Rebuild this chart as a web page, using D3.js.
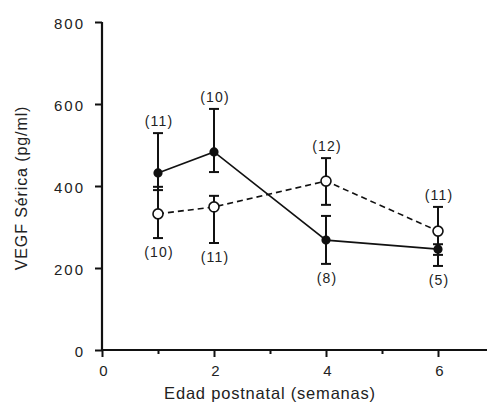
<!DOCTYPE html>
<html><head><meta charset="utf-8">
<script src="https://cdn.jsdelivr.net/npm/d3@7"></script>
<style>body{margin:0;background:#fff}svg{display:block}text{font-family:"Liberation Sans",Arial,sans-serif;fill:#222}</style>
</head><body><svg id="c" width="487" height="409"></svg>
<script>
const weeks = [1, 2, 4, 6];
const filledMean = [432, 483, 268, 246];
const filledUpper = [529, 588, 327, 258];
const filledLower = [390, 434, 210, 205];
const filledN = ["(11)", "(10)", "(8)", "(5)"];
const openMean = [332, 349, 412, 290];
const openUpper = [398, 376, 468, 349];
const openLower = [273, 261, 354, 232];
const openN = ["(10)", "(11)", "(12)", "(11)"];
const yTicks = [0, 200, 400, 600, 800];
const xTicks = [0, 2, 4, 6];
const xMinor = [1, 3, 5];

const svg = d3.select("#c");
const x = d3.scaleLinear().domain([0, 7]).range([102, 494]);
const y = d3.scaleLinear().domain([0, 800]).range([350, 22]);

// axes
const gy = svg.append("g").attr("transform", "translate(102,0)")
  .call(d3.axisLeft(y).tickValues(yTicks).tickSize(7).tickPadding(10).tickFormat(d3.format("d")));
gy.selectAll("text").style("font-size", "15px").style("letter-spacing", "2px").attr("dy", "0.4em");
const gx = svg.append("g").attr("transform", "translate(0,350)")
  .call(d3.axisBottom(x).tickValues(xTicks).tickSize(7).tickPadding(8).tickFormat(d3.format("d")));
gx.selectAll("text").style("font-size", "15px").attr("dx", "1px");
svg.append("g").attr("transform", "translate(0,350)")
  .call(d3.axisBottom(x).tickValues(xMinor).tickSize(4).tickFormat(""))
  .select(".domain").remove();
svg.selectAll(".domain").attr("stroke", "#111").attr("stroke-width", 2.2);
svg.selectAll(".tick line").attr("stroke", "#111").attr("stroke-width", 2);
gy.select(".domain").attr("d", `M0,${y(800)}V${y(0)}`);
gx.select(".domain").attr("d", `M102,0H487`);

function series(mean, up, lo, ns, filled) {
  const g = svg.append("g");
  const pts = weeks.map((w, i) => ({w, m: mean[i], u: up[i], l: lo[i], n: ns[i]}));
  pts.forEach(p => {
    g.append("line").attr("x1", x(p.w)).attr("x2", x(p.w)).attr("y1", y(p.u)).attr("y2", y(p.l))
      .attr("stroke", "#111").attr("stroke-width", 2);
    [p.u, p.l].forEach(v => g.append("line").attr("x1", x(p.w) - 5).attr("x2", x(p.w) + 5)
      .attr("y1", y(v)).attr("y2", y(v)).attr("stroke", "#111").attr("stroke-width", 2));
  });
  g.append("path").datum(pts)
    .attr("d", d3.line().x(p => x(p.w)).y(p => y(p.m)))
    .attr("fill", "none").attr("stroke", "#111").attr("stroke-width", 1.6)
    .attr("stroke-dasharray", filled ? null : "6,4");
  g.selectAll("circle").data(pts).join("circle")
    .attr("cx", p => x(p.w)).attr("cy", p => y(p.m))
    .attr("r", filled ? 3.8 : 5)
    .attr("fill", filled ? "#111" : "#fff").attr("stroke", "#111").attr("stroke-width", 1.6);
  return pts;
}
const op = series(openMean, openUpper, openLower, openN, false);
const fp = series(filledMean, filledUpper, filledLower, filledN, true);

const labAbove = [fp[0], fp[1], op[2], op[3]];
const labBelow = [op[0], op[1], fp[2], fp[3]];
const nStyle = t => t.attr("text-anchor", "middle").style("font-size", "14px").style("letter-spacing", "1.2px");
labAbove.forEach(p => svg.append("text").attr("x", x(p.w) + 1).attr("y", y(p.u) - 7).call(nStyle).text(p.n));
labBelow.forEach(p => svg.append("text").attr("x", x(p.w) + 1).attr("y", y(p.l) + 19).call(nStyle).text(p.n));

svg.append("text").attr("transform", "translate(27,188) rotate(-90)")
  .attr("text-anchor", "middle").style("font-size", "16px").style("letter-spacing", "0.9px").text("VEGF Sérica (pg/ml)");
svg.append("text").attr("x", 270).attr("y", 399)
  .attr("text-anchor", "middle").style("font-size", "16.5px").style("letter-spacing", "0.8px").text("Edad postnatal (semanas)");
</script></body></html>
